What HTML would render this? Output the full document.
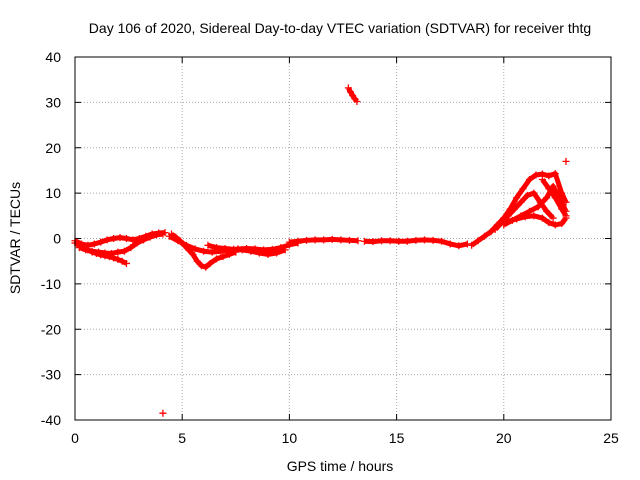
<!DOCTYPE html>
<html><head><meta charset="utf-8"><style>
body{margin:0;background:#fff}
svg{display:block;font-family:"Liberation Sans",sans-serif}
</style></head><body>
<svg id="c" width="640" height="480">
<text x="340" y="33" font-size="14" text-anchor="middle">Day 106 of 2020, Sidereal Day-to-day VTEC variation (SDTVAR) for receiver thtg</text>
<text x="340" y="471" font-size="14" text-anchor="middle">GPS time / hours</text>
<text transform="translate(20,238) rotate(-90)" font-size="14" text-anchor="middle">SDTVAR / TECUs</text>
<g id="grid"></g><g id="marks"></g>
<rect x="75" y="57" width="536" height="363" fill="none" stroke="#000"/>
</svg>
<script>
const xTicks=[0,5,10,15,20,25];
const yTicks=[-40,-30,-20,-10,0,10,20,30,40];
// tracks: hours and values
const tAh=[0,0.2,0.4,0.6,0.8,1.0,1.2,1.4,1.6,1.8,2.0,2.2,2.4];
const tAv=[-1,-1.5,-2,-2.5,-3,-3.3,-3.6,-3.8,-4,-4.3,-4.6,-5,-5.5];
const tBh=[0,0.3,0.6,0.9,1.2,1.5,1.8,2.1,2.4,2.7,3.0,3.3,3.6,3.9,4.2];
const tBv=[-0.5,-1.2,-1.5,-1.2,-0.8,-0.3,0,0.2,0,-0.3,0,0.5,1,1.2,1.3];
const tCh=[0.2,0.5,0.8,1.1,1.4,1.7,2.0,2.3,2.6,2.9,3.2,3.5,3.8,4.1];
const tCv=[-2,-2.5,-2.8,-3,-3.2,-3.3,-3,-2.8,-2,-1,-0.3,0.3,0.8,1];
const tDh=[4.5,4.7,4.9,5.1,5.3,5.5,5.7,5.9,6.1,6.3,6.6,6.9,7.2,7.5];
const tDv=[1,0.3,-0.5,-1.5,-2.5,-3.5,-5,-6,-6.3,-5.5,-4.5,-4,-3.5,-3];
const tEh=[4.4,4.8,5.2,5.6,6.0,6.4,6.8,7.2,7.6,8.0,8.4,8.8,9.2,9.6,10.0,10.4];
const tEv=[0.5,-0.5,-1.5,-2.3,-2.8,-3,-2.8,-2.5,-2.3,-2.2,-2.3,-2.5,-2.4,-2,-1.4,-1];
const tFh=[6.2,6.6,7.0,7.4,7.8,8.2,8.6,9.0,9.4,9.8];
const tFv=[-1.5,-2,-2.2,-2.4,-2.5,-2.8,-3.2,-3.5,-3.2,-2.5];
const tGh=[10,10.4,10.8,11.2,11.6,12.0,12.4,12.8,13.2];
const tGv=[-0.8,-0.6,-0.4,-0.3,-0.3,-0.2,-0.3,-0.4,-0.5];
const tHh=[13.5,13.9,14.3,14.7,15.1,15.5,15.9,16.3,16.7,17.1,17.5,17.9,18.3];
const tHv=[-0.6,-0.7,-0.5,-0.5,-0.6,-0.6,-0.4,-0.3,-0.4,-0.6,-1.2,-1.6,-1.2];
const tIh=[18.5,18.8,19.1,19.4,19.7,20.0,20.3,20.6,20.9,21.2,21.5,21.8,22.1,22.4,22.7,22.9];
const tIv=[-1.5,-0.5,0.5,1.5,3,4.5,6.5,9,11,13,14,14.2,13.8,14.3,10,8];
const tJh=[19.6,19.9,20.2,20.5,20.8,21.1,21.4,21.7,22.0,22.3];
const tJv=[2,3.5,5,6.5,8,9.5,10,8,6,4.5];
const tKh=[20.0,20.4,20.8,21.2,21.6,22.0,22.3,22.6,22.9];
const tKv=[3,4,5,6,7,9,11.5,9,6];
const tLh=[20.2,20.6,21.0,21.4,21.8,22.1,22.4,22.7,22.9];
const tLv=[3.8,4.3,4.8,5,4.5,3.5,3,3.3,4.5];
const tMh=[21.8,22.1,22.4,22.7,22.9];
const tMv=[13,11,9,6.5,5];
const tNh=[12.75,12.85,12.95,13.05,13.15];
const tNv=[33.2,32.3,31.5,30.8,30.2];
const tOh=[4.1,22.9];
const tOv=[-38.5,17];
const tracks=[[tAh,tAv],[tBh,tBv],[tCh,tCv],[tDh,tDv],[tEh,tEv],[tFh,tFv],[tGh,tGv],[tHh,tHv],[tIh,tIv],[tJh,tJv],[tKh,tKv],[tLh,tLv],[tMh,tMv],[tNh,tNv]];
const X=v=>75+v*536/25, Y=v=>238.5-v*363/80;
const NS="http://www.w3.org/2000/svg";
const g=document.getElementById('grid'), m=document.getElementById('marks');
function mk(tag,at,p){const e=document.createElementNS(NS,tag);for(const k in at)e.setAttribute(k,at[k]);p.appendChild(e);return e;}
xTicks.forEach(t=>{const x=X(t);
 const l=mk('line',{x1:x,x2:x,y1:57,y2:420,stroke:'#aaa','stroke-dasharray':'1,2'},g);
 
 
 mk('line',{x1:x,x2:x,y1:420,y2:414,stroke:'#000'},g);mk('line',{x1:x,x2:x,y1:57,y2:63,stroke:'#000'},g);
 const s=mk('text',{x:x,y:443,'font-size':14,'text-anchor':'middle'},g);s.textContent=t;
 
 });
yTicks.forEach(t=>{const y=Y(t);
 const l=mk('line',{x1:75,x2:611,y1:y,y2:y,stroke:'#aaa','stroke-dasharray':'1,2'},g);
 
 
 mk('line',{x1:75,x2:81,y1:y,y2:y,stroke:'#000'},g);mk('line',{x1:611,x2:605,y1:y,y2:y,stroke:'#000'},g);
 const s=mk('text',{x:61,y:y+5,'font-size':14,'text-anchor':'end'},g);s.textContent=t;
 
 });
tracks.forEach(([h,v])=>{
 const pl=mk('polyline',{points:h.map((x,i)=>X(x)+','+Y(v[i])).join(' '),fill:'none',stroke:'#f00','stroke-width':5,'stroke-linejoin':'round'},m);
 
 
 h.forEach((x,i)=>{const px=X(x),py=Y(v[i]);
  const p=mk('path',{d:`M${px-3.5},${py}h7M${px},${py-3.5}v7`,stroke:'#f00','stroke-width':1.3},m);
  
  });
});
[[tOh,tOv]].forEach(([h,v])=>h.forEach((x,i)=>{const px=X(x),py=Y(v[i]);
 const p=mk('path',{d:`M${px-3.5},${py}h7M${px},${py-3.5}v7`,stroke:'#f00','stroke-width':1.3},m);
 
 }));
</script>
</body></html>
